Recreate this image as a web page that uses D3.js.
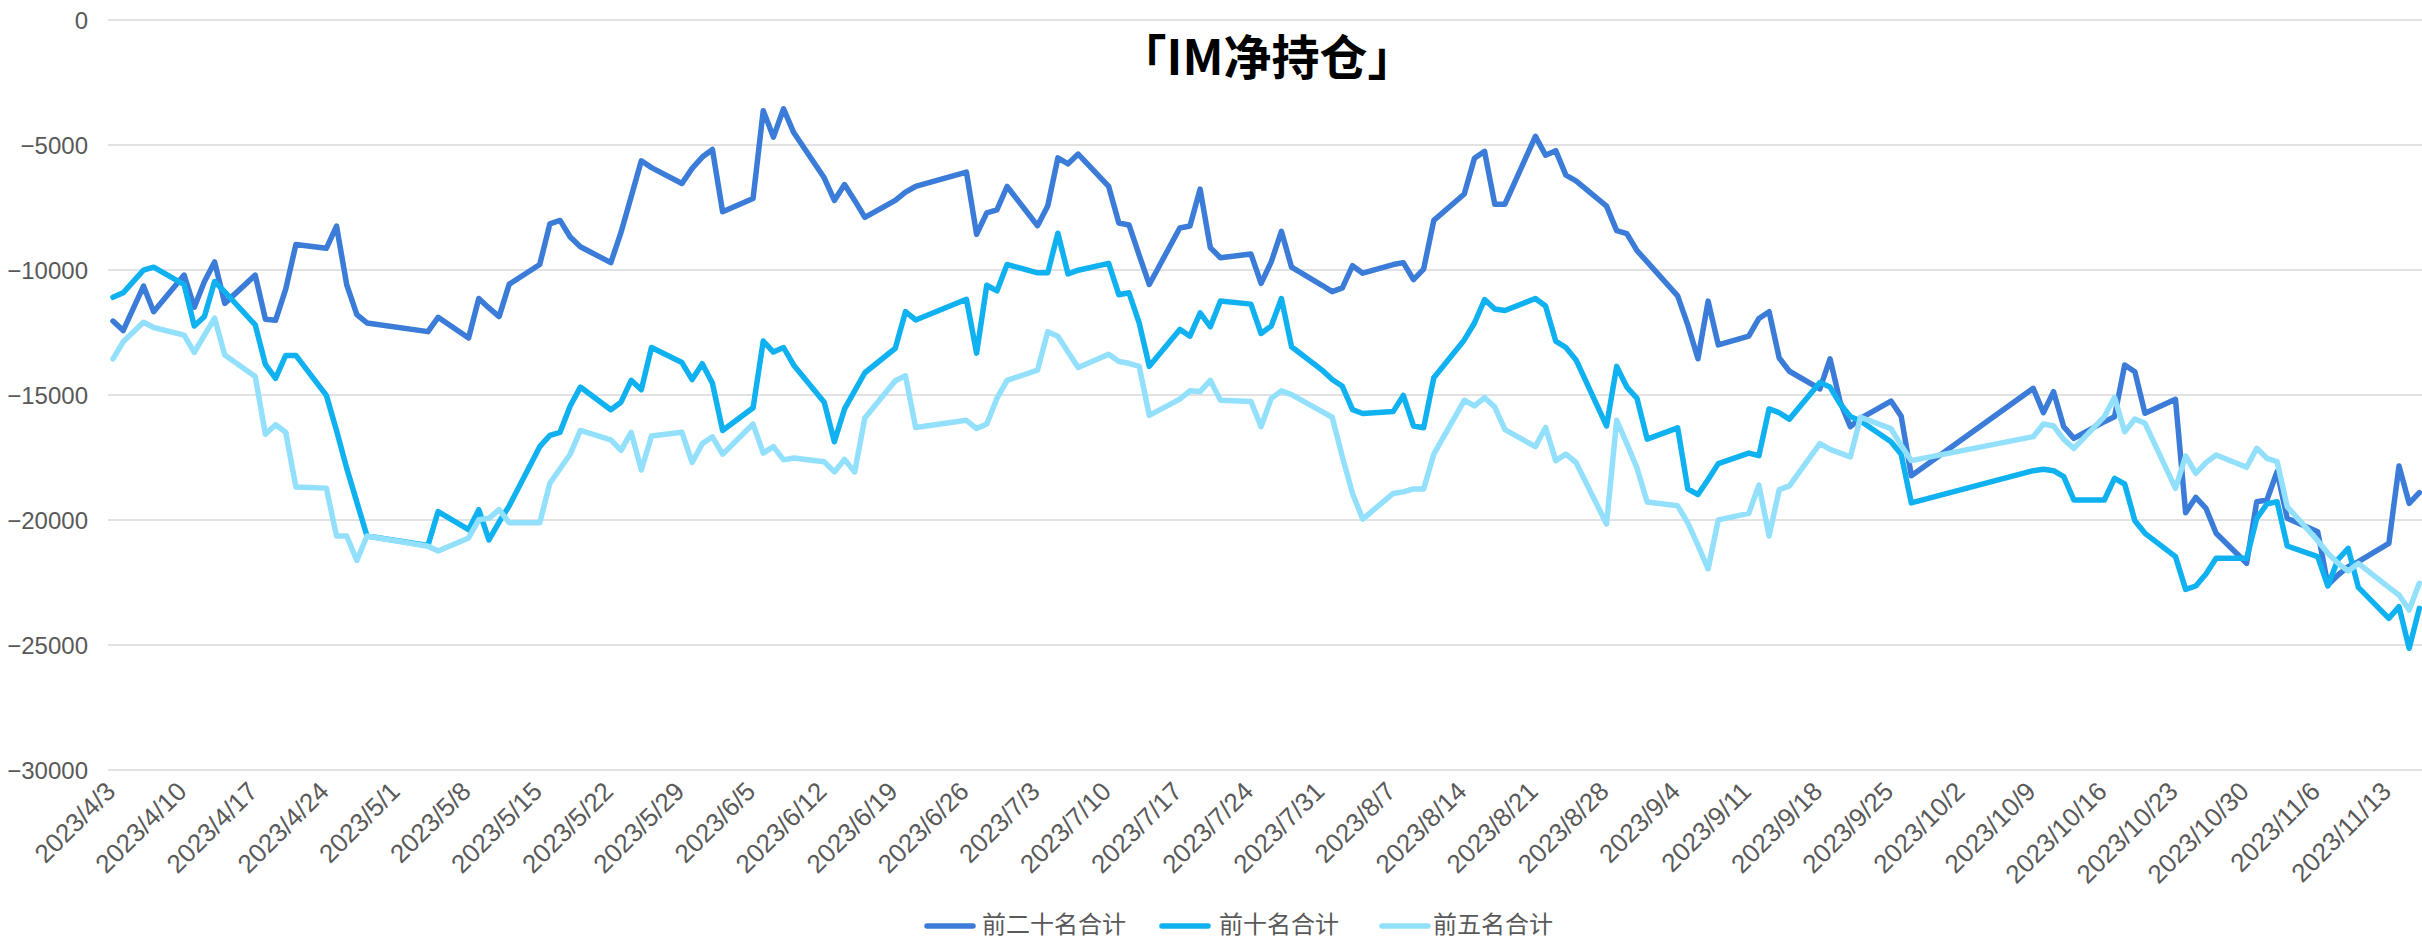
<!DOCTYPE html>
<html>
<head>
<meta charset="utf-8">
<script src="https://cdn.jsdelivr.net/npm/d3@7"></script>
<style>
  html, body { margin: 0; padding: 0; background: #ffffff; }
  svg { display: block; }
</style>
</head>
<body>
<svg id="chart" width="2422" height="940"></svg>
<script>
// ---------------- data ----------------
const dates = [
  "2023-04-03","2023-04-04","2023-04-06","2023-04-07","2023-04-10","2023-04-11","2023-04-12","2023-04-13","2023-04-14",
  "2023-04-17","2023-04-18","2023-04-19","2023-04-20","2023-04-21","2023-04-24","2023-04-25","2023-04-26","2023-04-27","2023-04-28",
  "2023-05-04","2023-05-05","2023-05-08","2023-05-09","2023-05-10","2023-05-11","2023-05-12","2023-05-15","2023-05-16","2023-05-17",
  "2023-05-18","2023-05-19","2023-05-22","2023-05-23","2023-05-24","2023-05-25","2023-05-26","2023-05-29","2023-05-30","2023-05-31",
  "2023-06-01","2023-06-02","2023-06-05","2023-06-06","2023-06-07","2023-06-08","2023-06-09","2023-06-12","2023-06-13","2023-06-14",
  "2023-06-15","2023-06-16","2023-06-19","2023-06-20","2023-06-21","2023-06-26","2023-06-27","2023-06-28","2023-06-29","2023-06-30",
  "2023-07-03","2023-07-04","2023-07-05","2023-07-06","2023-07-07","2023-07-10","2023-07-11","2023-07-12","2023-07-13","2023-07-14",
  "2023-07-17","2023-07-18","2023-07-19","2023-07-20","2023-07-21","2023-07-24","2023-07-25","2023-07-26","2023-07-27","2023-07-28",
  "2023-07-31","2023-08-01","2023-08-02","2023-08-03","2023-08-04","2023-08-07","2023-08-08","2023-08-09","2023-08-10","2023-08-11",
  "2023-08-14","2023-08-15","2023-08-16","2023-08-17","2023-08-18","2023-08-21","2023-08-22","2023-08-23","2023-08-24","2023-08-25",
  "2023-08-28","2023-08-29","2023-08-30","2023-08-31","2023-09-01","2023-09-04","2023-09-05","2023-09-06","2023-09-07","2023-09-08",
  "2023-09-11","2023-09-12","2023-09-13","2023-09-14","2023-09-15","2023-09-18","2023-09-19","2023-09-20","2023-09-21","2023-09-22",
  "2023-09-25","2023-09-26","2023-09-27",
  "2023-10-09","2023-10-10","2023-10-11","2023-10-12","2023-10-13","2023-10-16","2023-10-17","2023-10-18","2023-10-19","2023-10-20",
  "2023-10-23","2023-10-24","2023-10-25","2023-10-26","2023-10-27","2023-10-30","2023-10-31",
  "2023-11-01","2023-11-02","2023-11-03","2023-11-06","2023-11-07","2023-11-08","2023-11-09","2023-11-10",
  "2023-11-13","2023-11-14","2023-11-15","2023-11-16"
];

// 前二十名合计
const top20 = [
  -12044,-12421,-10641,-11667,-10204,-11486,-10460,-9676,-11335,
  -10204,-11968,-12014,-10762,-8982,-9133,-8243,-10581,-11787,-12119,
  -12466,-11893,-12722,-11139,-11516,-11863,-10566,-9781,-8152,-8017,
  -8680,-9072,-9706,-8499,-7066,-5633,-5905,-6538,-5935,-5483,
  -5181,-7670,-7142,-3627,-4683,-3552,-4502,-6312,-7217,-6584,
  -7217,-7896,-7217,-6885,-6659,-6086,-8575,-7715,-7594,-6659,
  -8228,-7443,-5513,-5754,-5362,-6659,-8122,-8198,-9404,-10581,
  -8318,-8243,-6765,-9103,-9510,-9359,-10535,-9676,-8454,-9887,
  -10611,-10867,-10716,-9827,-10128,-9781,-9706,-10385,-9962,-8017,
  -6961,-5528,-5256,-7368,-7368,-4653,-5407,-5226,-6207,-6433,
  -7443,-8424,-8544,-9223,-9676,-11033,-12195,-13552,-11245,-12994,
  -12647,-11938,-11667,-13522,-14050,-14759,-13552,-15287,-16267,-15935,
  -15241,-15845,-18228,
  -14733,-15707,-14867,-16267,-16733,-16067,-15867,-13800,-14067,-15733,
  -15173,-19707,-19093,-19533,-20533,-21733,-19267,
  -19200,-18067,-19933,-20467,-22600,-22200,-21867,-21667,
  -20933,-17840,-19333,-18907
];

// 前十名合计
const top10 = [
  -11093,-10912,-10008,-9887,-10581,-12240,-11863,-10460,-10870,
  -12195,-13778,-14336,-13416,-13416,-15015,-16418,-17926,-19284,-20641,
  -21018,-19661,-20385,-19585,-20792,-20083,-19434,-17066,-16614,-16493,
  -15438,-14683,-15589,-15287,-14412,-14789,-13100,-13703,-14382,-13748,
  -14532,-16418,-15513,-12843,-13281,-13100,-13809,-15287,-16870,-15558,
  -14834,-14110,-13130,-11667,-11999,-11169,-13326,-10611,-10837,-9781,
  -10113,-10113,-8529,-10159,-10008,-9736,-10988,-10912,-12119,-13854,
  -12376,-12647,-11712,-12270,-11244,-11365,-12541,-12240,-11139,-13069,
  -14004,-14381,-14653,-15588,-15739,-15664,-15015,-16237,-16312,-14306,
  -12798,-12119,-11184,-11561,-11621,-11139,-11440,-12843,-13100,-13597,
  -16237,-13854,-14683,-15136,-16765,-16312,-18756,-18982,-18379,-17745,
  -17323,-17428,-15558,-15709,-15965,-14502,-14683,-15362,-15860,-16041,
  -16870,-17368,-19314,
  -18027,-17973,-18027,-18267,-19200,-19200,-18333,-18560,-20027,-20533,
  -21467,-22773,-22640,-22160,-21533,-21533,-19933,
  -19360,-19267,-21040,-21467,-22640,-21573,-21133,-22693,
  -23933,-23467,-25133,-23533
];

// 前五名合计
const top5 = [
  -13552,-12873,-12089,-12300,-12602,-13296,-12602,-11923,-13401,
  -14261,-16569,-16192,-16493,-18680,-18725,-20640,-20640,-21621,-20640,
  -21048,-21244,-20717,-19993,-19933,-19585,-20113,-20113,-18529,-17950,
  -17368,-16418,-16795,-17217,-16493,-18001,-16644,-16493,-17700,-16946,
  -16674,-17368,-16162,-17323,-17066,-17594,-17519,-17670,-18077,-17579,
  -18077,-15920,-14427,-14231,-16297,-16011,-16343,-16162,-15136,-14412,
  -14004,-12466,-12647,-13281,-13899,-13371,-13658,-13733,-13854,-15815,
  -15166,-14834,-14864,-14412,-15211,-15256,-16267,-15136,-14834,-14985,
  -15664,-15890,-17474,-18937,-19963,-18937,-18876,-18756,-18756,-17368,
  -15211,-15438,-15106,-15483,-16388,-17066,-16297,-17624,-17368,-17700,
  -20158,-16011,-16946,-17926,-19283,-19434,-20113,-21018,-21953,-19993,
  -19736,-18605,-20641,-18786,-18635,-16946,-17172,-17323,-17474,-15890,
  -16343,-17021,-17624,
  -16667,-16160,-16240,-16773,-17133,-15867,-15093,-16467,-15960,-16133,
  -18733,-17440,-18133,-17707,-17400,-17893,-17133,
  -17533,-17667,-19467,-20827,-21333,-21733,-22040,-21733,
  -22693,-23000,-23600,-22533
];

const seriesNames = ["前二十名合计", "前十名合计", "前五名合计"];
const seriesColors = ["#3a7cd8", "#0fb1f0", "#93e0fd"];

const yTicks = [0, -5000, -10000, -15000, -20000, -25000, -30000];
const xTickDates = [
  "2023-04-03","2023-04-10","2023-04-17","2023-04-24","2023-05-01","2023-05-08","2023-05-15","2023-05-22","2023-05-29",
  "2023-06-05","2023-06-12","2023-06-19","2023-06-26","2023-07-03","2023-07-10","2023-07-17","2023-07-24","2023-07-31",
  "2023-08-07","2023-08-14","2023-08-21","2023-08-28","2023-09-04","2023-09-11","2023-09-18","2023-09-25",
  "2023-10-02","2023-10-09","2023-10-16","2023-10-23","2023-10-30","2023-11-06","2023-11-13"
];
const titleText = "「IM净持仓」";

// ---------------- chart ----------------
const parse = d3.timeParse("%Y-%m-%d");
const fmt = d3.timeFormat("%Y/%-m/%-d");
const plotLeft = 108, plotRight = 2422;

const svg = d3.select("#chart");

const x = d3.scaleTime()
  .domain([parse("2023-04-03"), parse("2023-11-16")])
  .range([113, 113 + 227 * 10.16]);

const y = d3.scaleLinear()
  .domain([-30000, 0])
  .range([770, 20]);

// gridlines
svg.append("g")
  .selectAll("line")
  .data(yTicks)
  .join("line")
  .attr("x1", plotLeft)
  .attr("x2", plotRight)
  .attr("y1", d => y(d))
  .attr("y2", d => y(d))
  .attr("stroke", "#d9d9d9")
  .attr("stroke-width", 1.5);

// y axis labels
const yAxis = d3.axisLeft(y).tickValues(yTicks).tickSize(0).tickPadding(0).tickFormat(d3.format("d"));
const yg = svg.append("g").attr("transform", `translate(88,0)`).call(yAxis);
yg.select(".domain").remove();
yg.selectAll("text")
  .attr("font-family", "'Liberation Sans', Arial, sans-serif")
  .attr("font-size", 24)
  .attr("fill", "#595959")
  .attr("dy", "0.35em");

// x axis labels
const xAxis = d3.axisBottom(x)
  .tickValues(xTickDates.map(parse))
  .tickSize(0)
  .tickPadding(0)
  .tickFormat(fmt);
const xg = svg.append("g").call(xAxis);
xg.select(".domain").remove();
xg.selectAll(".tick").attr("transform", d => `translate(${x(d) + 4},793)`);
xg.selectAll("text")
  .attr("font-family", "'Liberation Sans', Arial, sans-serif")
  .attr("font-size", 26)
  .attr("fill", "#595959")
  .attr("text-anchor", "end")
  .attr("y", 0)
  .attr("dy", 0)
  .attr("transform", "rotate(-45)");

// lines
const seriesData = [top20, top10, top5];
svg.append("clipPath").attr("id", "plotclip")
  .append("rect").attr("x", plotLeft).attr("y", 0).attr("width", plotRight - plotLeft).attr("height", 800);

const line = d3.line()
  .x(d => x(d.date))
  .y(d => y(d.value));

const lg = svg.append("g").attr("clip-path", "url(#plotclip)");
seriesData.forEach((vals, i) => {
  const pts = dates.map((d, k) => ({ date: parse(d), value: vals[k] }));
  lg.append("path")
    .datum(pts)
    .attr("fill", "none")
    .attr("stroke", seriesColors[i])
    .attr("stroke-width", 5.5)
    .attr("stroke-linejoin", "round")
    .attr("stroke-linecap", "round")
    .attr("d", line);
});

// title
svg.append("text")
  .attr("x", 1267)
  .attr("y", 75)
  .attr("text-anchor", "middle")
  .attr("font-family", "'Noto Sans CJK SC', sans-serif")
  .attr("font-weight", "bold")
  .attr("font-size", 48)
  .attr("fill", "#000000")
  .text(titleText);

// legend
const legendItems = [
  { x1: 927, x2: 973, tx: 982 },
  { x1: 1162, x2: 1208, tx: 1219 },
  { x1: 1382, x2: 1428, tx: 1433 }
];
const leg = svg.append("g");
legendItems.forEach((it, i) => {
  leg.append("line")
    .attr("x1", it.x1).attr("x2", it.x2)
    .attr("y1", 926).attr("y2", 926)
    .attr("stroke", seriesColors[i])
    .attr("stroke-width", 5.5)
    .attr("stroke-linecap", "round");
  leg.append("text")
    .attr("x", it.tx)
    .attr("y", 933)
    .attr("font-family", "'Noto Sans CJK SC', sans-serif")
    .attr("font-size", 24)
    .attr("fill", "#595959")
    .text(seriesNames[i]);
});
</script>
</body>
</html>
